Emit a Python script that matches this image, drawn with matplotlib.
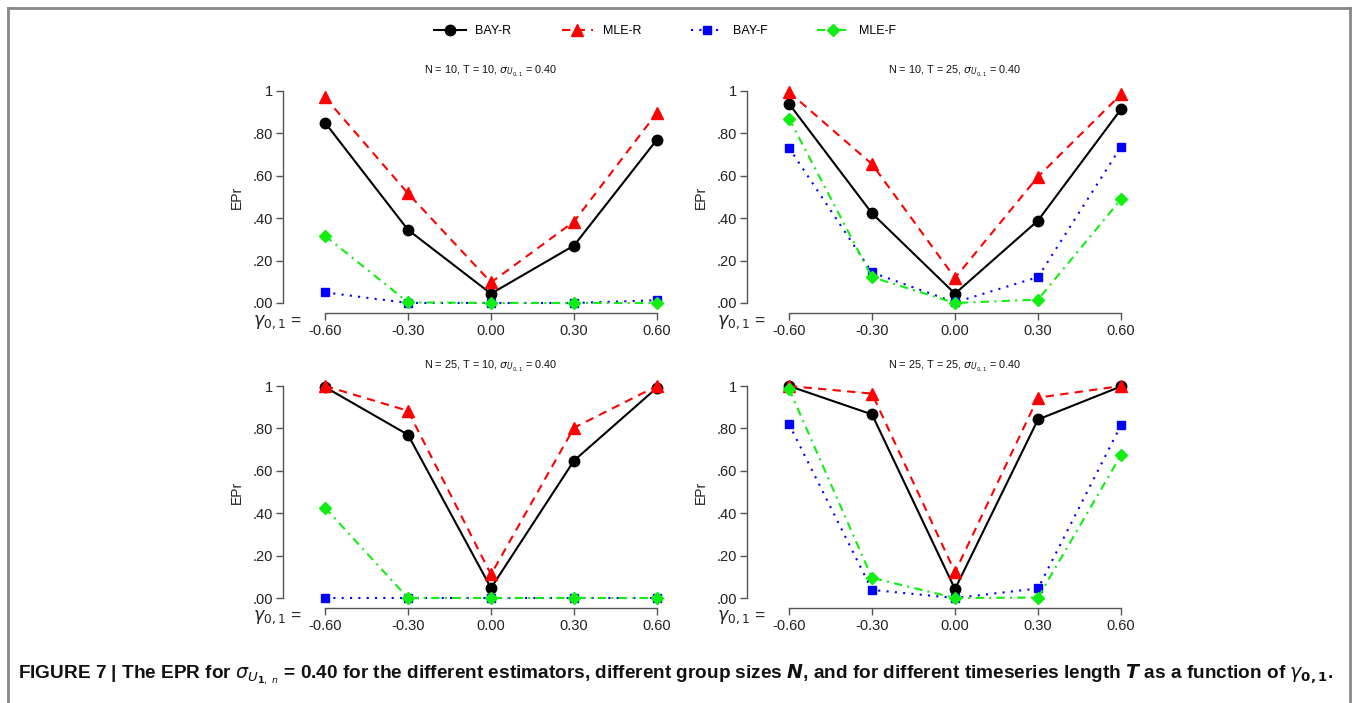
import numpy as np
import matplotlib
matplotlib.use("Agg")
import matplotlib.pyplot as plt
from matplotlib.lines import Line2D

plt.rcParams['font.family'] = ['Liberation Sans', 'DejaVu Sans']

W, H = 1357, 703

gamma = [-0.60, -0.30, 0.00, 0.30, 0.60]
gamma_labels = ['-0.60', '-0.30', '0.00', '0.30', '0.60']
y_ticks = [0, 0.2, 0.4, 0.6, 0.8, 1.0]
y_labels = ['.00', '.20', '.40', '.60', '.80', '1']

titles = [r'N = 10, T = 10, $\sigma_{U_{0,1}}$ = 0.40',
          r'N = 10, T = 25, $\sigma_{U_{0,1}}$ = 0.40',
          r'N = 25, T = 10, $\sigma_{U_{0,1}}$ = 0.40',
          r'N = 25, T = 25, $\sigma_{U_{0,1}}$ = 0.40']

# EPr per panel (N=10/T=10, N=10/T=25, N=25/T=10, N=25/T=25)
bay_r = [[0.851, 0.345, 0.044, 0.271, 0.771],
         [0.940, 0.423, 0.044, 0.389, 0.914],
         [0.995, 0.770, 0.047, 0.648, 0.992],
         [1.000, 0.866, 0.042, 0.842, 0.998]]
mle_r = [[0.970, 0.517, 0.097, 0.384, 0.897],
         [0.995, 0.655, 0.118, 0.596, 0.984],
         [1.000, 0.883, 0.111, 0.803, 1.000],
         [1.000, 0.964, 0.122, 0.945, 1.000]]
bay_f = [[0.050, 0.000, 0.000, 0.000, 0.013],
         [0.732, 0.144, 0.003, 0.122, 0.737],
         [0.000, 0.000, 0.000, 0.000, 0.000],
         [0.820, 0.038, 0.000, 0.045, 0.815]]
mle_f = [[0.317, 0.003, 0.000, 0.000, 0.000],
         [0.870, 0.122, 0.000, 0.016, 0.489],
         [0.426, 0.000, 0.000, 0.000, 0.000],
         [0.987, 0.095, 0.000, 0.002, 0.674]]

series = [
    ('BAY-R', bay_r, dict(color='black', ls='-', marker='o', ms=7.5)),
    ('MLE-R', mle_r, dict(color='#ff0000', ls=(0, (4, 3)), marker='^', ms=8)),
    ('BAY-F', bay_f, dict(color='#0000ff', ls=(0, (1, 3)), marker='s', ms=6)),
    ('MLE-F', mle_f, dict(color='#11ee11', ls=(0, (4, 2.5, 1, 2.5)), marker='D', ms=6.5)),
]

fig = plt.figure(figsize=(W / 100, H / 100), dpi=100)

# panel boxes in pixels: left, top, width, height
boxes = [(283, 81), (747, 81), (283, 376), (747, 376)]
pw, ph = 416, 232
xpad = 42 * 1.2 / 332
ypad = 10 / 212

for k, (l, t) in enumerate(boxes):
    ax = fig.add_axes([l / W, 1 - (t + ph) / H, pw / W, ph / H])
    for name, data, st in series:
        ax.plot(gamma, data[k], lw=1.5, mec=st['color'], mfc=st['color'], **st)
    ax.set_xlim(-0.6 - xpad, 0.6 + xpad)
    ax.set_ylim(-ypad, 1 + ypad)
    for s in ['top', 'right']:
        ax.spines[s].set_visible(False)
    ax.spines['left'].set_bounds(0, 1)
    ax.spines['bottom'].set_bounds(-0.6, 0.6)
    for s in ['left', 'bottom']:
        ax.spines[s].set_color('#555555')
        ax.spines[s].set_linewidth(1.0)
    ax.set_xticks(gamma)
    ax.set_xticklabels(gamma_labels)
    ax.set_yticks(y_ticks)
    ax.set_yticklabels(y_labels)
    ax.tick_params(axis='both', direction='out', length=5, width=1.0,
                   color='#555555', labelsize=10.5, labelcolor='#222222')
    ax.tick_params(axis='x', pad=3)
    ax.tick_params(axis='y', pad=2)
    ax.patch.set_alpha(0)
    fig.text((l + pw / 2) / W, 1 - (t - 10) / H, titles[k], ha='center',
             va='center', fontsize=7.8, color='#111111')
    fig.text((l - 46) / W, 1 - (t + 116) / H, 'EPr', rotation=90,
             ha='center', va='center', fontsize=10, color='#222222')
    fig.text((l + 19) / W, 1 - (t + 241) / H, r'$\gamma_{0,1}$ =',
             ha='right', va='center', fontsize=12.5, color='#222222')

handles = [Line2D([], [], lw=1.5, mec=st['color'], mfc=st['color'], **st)
           for name, data, st in series]
fig.legend(handles, [s[0] for s in series], loc='center',
           bbox_to_anchor=(665 / W, 1 - 31 / H), ncol=4, frameon=False,
           fontsize=9, handlelength=2.5, handletextpad=0.8,
           columnspacing=4.0)

# caption
fig.text(18 / W, 1 - 675 / H,
         r'FIGURE 7 | The EPR for $\sigma_{U_{\mathbf{1},\ n}}$ = 0.40 for the different estimators, '
         r'different group sizes $\mathbfit{N}$, and for different timeseries length $\mathbfit{T}$ '
         r'as a function of $\gamma_{\mathbf{0,1}}$.',
         ha='left', va='center', fontsize=13.7, fontweight='bold', color='#111111')

# frame around the figure (left, top, right)
fc = '#888888'
fig.add_artist(Line2D([8 / W, 8 / W], [0, 1 - 8 / H], color=fc, lw=2,
                      transform=fig.transFigure))
fig.add_artist(Line2D([8 / W, 1350 / W], [1 - 8 / H, 1 - 8 / H], color=fc, lw=2,
                      transform=fig.transFigure))
fig.add_artist(Line2D([1350 / W, 1350 / W], [0, 1 - 8 / H], color=fc, lw=2,
                      transform=fig.transFigure))

fig.savefig('out.png', dpi=100)
